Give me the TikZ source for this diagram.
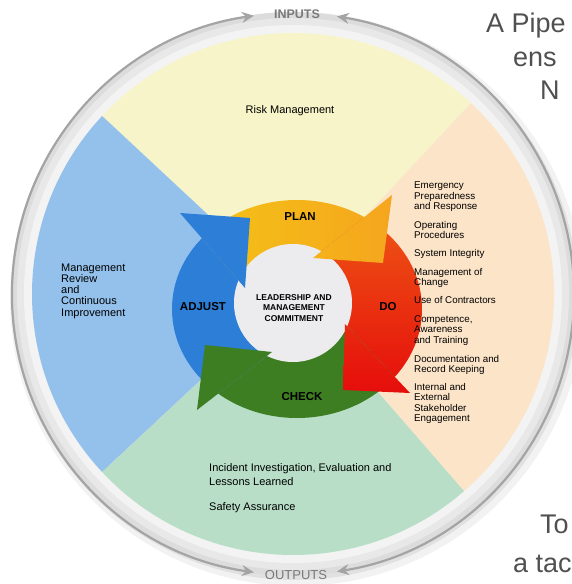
\documentclass[tikz,border=0pt]{standalone}
\usepackage{fontspec}
\setmainfont{Liberation Sans}
\usepackage{tikz}
\usetikzlibrary{arrows.meta,positioning}
\definecolor{quadY}{HTML}{F6F4C8}
\definecolor{quadB}{HTML}{93C1EC}
\definecolor{quadG}{HTML}{B8DEC8}
\definecolor{quadP}{HTML}{FCE4C8}
\definecolor{bandD}{HTML}{DCDCDC}
\definecolor{bandM}{HTML}{E8E8E8}
\definecolor{bandL}{HTML}{F3F3F3}
\definecolor{ringGray}{HTML}{A4A4A4}
\definecolor{labGray}{HTML}{7A7A7A}
\definecolor{bigGray}{HTML}{505050}
\definecolor{midGray}{HTML}{ECECEE}
\definecolor{planA}{HTML}{F4C714}
\definecolor{planB}{HTML}{F5A51E}
\definecolor{doA}{HTML}{EF6016}
\definecolor{doB}{HTML}{E50B0B}
\definecolor{checkG}{HTML}{3E7E22}
\definecolor{adjB}{HTML}{2C7ED6}
\tikzstyle{lbl}=[font=\bfseries\fontsize{11.5}{12}\selectfont]
\tikzstyle{lead}=[align=center, font=\bfseries\fontsize{8.5}{10.5}\selectfont]
\tikzstyle{txt}=[align=left, inner sep=0pt, font=\fontsize{11}{11.3}\selectfont]
\tikzstyle{lst}=[align=left, inner sep=0pt, font=\fontsize{9.8}{10.2}\selectfont]
\tikzstyle{big}=[anchor=base west, inner sep=0pt, text=bigGray, font=\fontsize{27}{30}\selectfont]
\tikzstyle{ringarr}=[draw=ringGray, line width=2.2pt, arrows={Stealth[length=12pt,width=11pt]-Stealth[length=12pt,width=11pt]}]
\newcommand\cycbox{(297,275) ellipse [x radius=125, y radius=109]}
\newcommand\planshade{\shade[left color=planA, right color=planB] (170,250) rectangle (395,395);}
\newcommand\doshade{\shade[top color=doA, bottom color=doB] (300,185) rectangle (430,395);}

\begin{document}
\begin{tikzpicture}[x=1pt,y=1pt]
\useasboundingbox (0,0) rectangle (572,584);
\clip (0,0) rectangle (572,584);
\coordinate (c) at (293,290);
\coordinate (w) at (293,281);
% shadow and grey band
\fill[black, opacity=.05] ([shift={(4,-5)}]c) circle (287);
\fill[black, opacity=.07] ([shift={(2,-3)}]c) circle (283);
\fill[bandD] (c) circle (282);
\fill[bandM] (c) circle (276);
\fill[bandL] (c) circle (269);
\begin{scope}[shift={(c)}]
\fill[quadY] (0,0) -- (47:261) arc[start angle=47, end angle=137, radius=261] -- cycle;
\fill[quadB] (0,0) -- (137:261) arc[start angle=137, end angle=223, radius=261] -- cycle;
\fill[quadG] (0,0) -- (223:261) arc[start angle=223, end angle=311, radius=261] -- cycle;
\fill[quadP] (0,0) -- (311:261) arc[start angle=311, end angle=407, radius=261] -- cycle;
\coordinate (inL) at (98:281);
\coordinate (inR) at (81:281);
\coordinate (outL) at (262:281);
\coordinate (outR) at (279:281);
\end{scope}
\node[font=\bfseries\fontsize{12.5}{13}\selectfont, text=labGray] (inputs) at (297,570) {INPUTS};
\node[font=\fontsize{13}{14}\selectfont, text=labGray] (outputs) at (296,9) {OUTPUTS};
\draw[ringarr] (outL) arc[start angle=262, end angle=98, radius=281];
\draw[ringarr] (outR) arc[start angle=-81, end angle=81, radius=281];
% cycle arrows: bodies
\begin{scope}
\clip (257.4,281.7) -- (50,521) -- (550,515) -- cycle;
\clip \cycbox;
\planshade
\end{scope}
\begin{scope}
\clip (295.8,312.3) -- (550,515) -- (540,53) -- cycle;
\clip \cycbox;
\doshade
\end{scope}
\begin{scope}
\clip (329.5,276.5) -- (540,53) -- (47,58) -- cycle;
\fill[checkG] \cycbox;
\end{scope}
\begin{scope}
\clip (289,245.2) -- (47,58) -- (50,521) -- cycle;
\fill[adjB] \cycbox;
\end{scope}
\fill[midGray] (w) circle (59);
% cycle arrows: heads
\begin{scope}
\clip (392,389) -- (383,321) -- (313,326) -- cycle;
\planshade
\end{scope}
\begin{scope}
\clip (410,191) -- (343,194) -- (345,260) -- cycle;
\doshade
\end{scope}
\fill[checkG] (197,174) -- (205,239) -- (272,232) -- cycle;
\fill[adjB] (180,371) -- (250,366) -- (245,296) -- cycle;
\node[lbl] (plan) at (300,367) {PLAN};
\node[lbl] (do) at (388,277) {DO};
\node[lbl] (check) at (302,187) {CHECK};
\node[lbl] (adjust) at (203,277) {ADJUST};
\node[lead] (leadership) at (294,276) {LEADERSHIP AND\\MANAGEMENT\\COMMITMENT};
% sector texts
\node[txt] (risk) at (290,473) {Risk Management};
\node[txt, anchor=west] (review) at (61,293) {Management\\Review\\and\\Continuous\\Improvement};
\node[txt, anchor=north west, font=\fontsize{11}{14}\selectfont] (incident) at (209,121) {Incident Investigation, Evaluation and\\Lessons Learned\\[11pt]Safety Assurance};
\node[lst, anchor=north west] (dolist) at (414,402) {Emergency\\Preparedness\\and Response\\[9pt]Operating\\Procedures\\[8pt]System Integrity\\[8pt]Management of\\Change\\[8pt]Use of Contractors\\[9pt]Competence,\\Awareness\\and Training\\[9pt]Documentation and\\Record Keeping\\[8pt]Internal and\\External\\Stakeholder\\Engagement};
% page text at the frame
\node[big] (pipe) at (486,551) {A Pipe};
\node[big] (ens) at ([xshift=27pt, yshift=-34pt]pipe.base west) {ens};
\node[big] (n) at ([xshift=27pt, yshift=-33pt]ens.base west) {N};
\node[big] (to) at (540,50) {To};
\node[big] (tac) at ([xshift=-27pt, yshift=-38pt]to.base west) {a tac};
\end{tikzpicture}
\end{document}
